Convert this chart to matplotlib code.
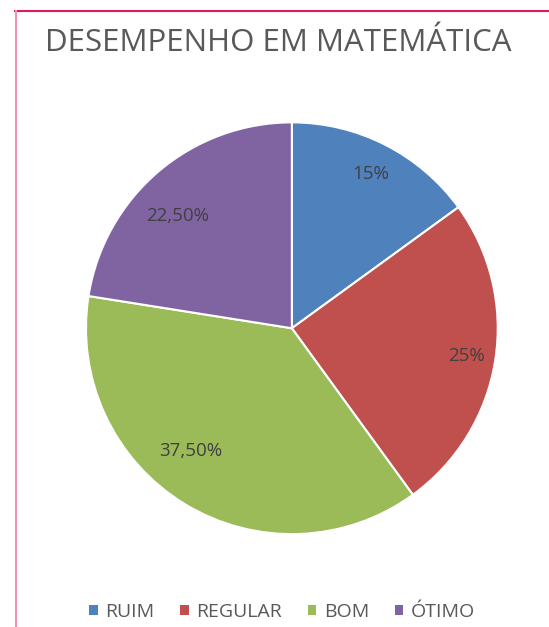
import matplotlib.pyplot as plt
import numpy as np
from matplotlib.patches import Patch
from matplotlib.lines import Line2D

# Data
categories = ["RUIM", "REGULAR", "BOM", "ÓTIMO"]
values = [15, 25, 37.5, 22.5]
value_labels = ["15%", "25%", "37,50%", "22,50%"]
colors = ["#4F81BD", "#C0504D", "#9BBB59", "#8064A2"]

plt.rcParams['font.family'] = ['Open Sans', 'DejaVu Sans']

fig = plt.figure(figsize=(5.49, 6.27), dpi=100)
fig.patch.set_facecolor("white")

# pink frame lines (top and left)
fig.add_artist(Line2D([15 / 549, 1.0], [1 - 11 / 627, 1 - 11 / 627], color="#E2185A", lw=1.5))
fig.add_artist(Line2D([16 / 549, 16 / 549], [0.0, 1 - 11 / 627], color="#F490B4", lw=1.5))

ax = fig.add_axes([0.1566, 0.148, 0.750, 0.657])
wedges, texts = ax.pie(values, colors=colors, startangle=90, counterclock=False,
                       wedgeprops=dict(edgecolor="white", linewidth=1.5))
ax.set_xlim(-1.0, 1.0)
ax.set_ylim(-1.0, 1.0)
ax.set_aspect("equal")
ax.axis("off")

# data labels (Excel "best fit" placement)
dist = [0.84, 0.86, 0.77, 0.78]
ang_shift = [0, 0, -8, 5]
total = sum(values)
start = 90.0
for v, lab, d, s in zip(values, value_labels, dist, ang_shift):
    mid = start - v / total * 360 / 2 + s
    start -= v / total * 360
    x, y = d * np.cos(np.radians(mid)), d * np.sin(np.radians(mid))
    ax.text(x, y, lab, ha="center", va="center", fontsize=13.5, color="#404040")

fig.text(0.506, 1 - 43 / 627, "DESEMPENHO EM MATEMÁTICA", ha="center", va="center",
         fontsize=22.5, color="#595959")

handles = [Patch(facecolor=c, edgecolor="none", label=n) for c, n in zip(colors, categories)]
fig.legend(handles=handles, loc="center", bbox_to_anchor=(0.514, 1 - 612 / 627), ncol=4,
           frameon=False, fontsize=14, handlelength=0.45, handleheight=0.45, handletextpad=0.4,
           columnspacing=1.3, labelcolor="#595959")

fig.savefig("out.png", dpi=100)
